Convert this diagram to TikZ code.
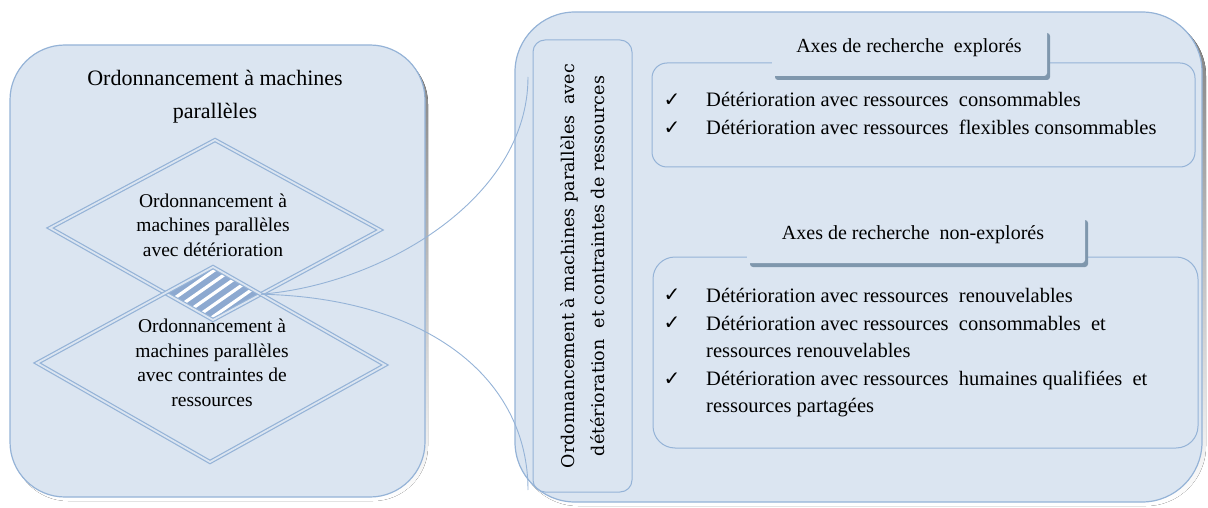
\documentclass[tikz,border=0pt]{standalone}
\usepackage{fontspec}
\setmainfont{Liberation Serif}
\newfontfamily\vertfont{DejaVu Serif}
\newfontfamily\checkfont{DejaVu Sans}
\usetikzlibrary{calc}

\definecolor{panel}{HTML}{DBE5F1}
\definecolor{edge}{HTML}{95B3D7}
\definecolor{shade}{HTML}{7F9CC2}
\definecolor{tabshade}{HTML}{7F97AD}
\definecolor{hatch}{HTML}{8DA9D0}

\tikzset{
  panelbox/.style={draw=edge, fill=panel, line width=1.2pt},
  innerbox/.style={draw=edge, line width=1pt},
  diamondline/.style={draw=edge, double=panel, double distance=1.8pt, line width=1.2pt},
  link/.style={draw=edge, line width=0.9pt},
  tabtext/.style={font=\fontsize{20}{24}\selectfont},
  itemtext/.style={font=\fontsize{20.5}{27}\selectfont, align=left, anchor=base west, inner sep=0pt},
  tick/.style={font=\checkfont\fontsize{20}{22}\selectfont, inner sep=0pt},
  difftext/.style={font=\fontsize{19.5}{24.5}\selectfont, align=center}
}

\begin{document}
\begin{tikzpicture}[x=1pt,y=-1pt]
\useasboundingbox (0,0) rectangle (1208,508);

% left panel with its shadow
\fill[shade, rounded corners=55pt] (13,49) rectangle (428,501);
\path[panelbox, rounded corners=55pt] (10,45) rectangle (425,497);
\node[font=\fontsize{22}{33}\selectfont, align=center] (title) at (215,97)
  {Ordonnancement à machines\\parallèles};

% overlap of the two diamonds, hatched
\begin{scope}
  \clip (215,140) -- (380,230) -- (213,320) -- (50,228) -- cycle;
  \clip (213,267) -- (385,365) -- (210,462) -- (37,363) -- cycle;
  \fill[hatch] (150,250) rectangle (280,330);
  \foreach \k in {-6,...,6}
    \draw[white, line width=3.2pt] ($(213,294)+\k*(5.4,7.6)$) ++(-70,49) -- ++(140,-98);
\end{scope}

% the two diamonds
\path[diamondline] (215,140) -- (380,230) -- (213,320) -- (50,228) -- cycle;
\path[diamondline] (213,267) -- (385,365) -- (210,462) -- (37,363) -- cycle;
\node[difftext] (d1) at (213,225)
  {Ordonnancement à\\machines parallèles\\avec détérioration};
\node[difftext] (d2) at (212,363)
  {Ordonnancement à\\machines parallèles\\avec contraintes de\\ressources};
\coordinate (hx) at (260.8,294.2);

% right panel with its shadow
\fill[shade, rounded corners=60pt] (518,16) rectangle (1206,506);
\path[panelbox, rounded corners=60pt] (515,12) rectangle (1202,502);

% vertical title box
\path[innerbox, rounded corners=12pt] (533,40) rectangle (632,492);
\node[rotate=90, font=\vertfont\fontsize{17.5}{30}\selectfont, align=center] (vt) at (583,266)
  {Ordonnancement à machines parallèles\ \ avec\\détérioration\ \ et contraintes de ressources};
\coordinate (cu) at (528,77);
\coordinate (cl) at (528,490);

% links from the overlap to the vertical box
\path[link] (hx) .. controls (380,285) and (528,200) .. (cu);
\path[link] (hx) .. controls (430,298) and (528,380) .. (cl);

% explored axes
\path[innerbox, rounded corners=15pt] (652,63) rectangle (1195,167);
\fill[tabshade, rounded corners=3pt] (775,33) rectangle (1050,80);
\fill[panel, rounded corners=3pt] (772,28) rectangle (1047,76);
\node[tabtext] (t1) at (909,48) {Axes de recherche\ \ explorés};
\node[tick] (c1) at (672,100) {✓};
\node[itemtext] (e1) at (706,107) {Détérioration avec ressources\ \ consommables};
\node[tick] (c2) at (672,128) {✓};
\node[itemtext] (e2) at (706,135) {Détérioration avec ressources\ \ flexibles consommables};

% unexplored axes
\path[innerbox, rounded corners=22pt] (653,257) rectangle (1198,448);
\fill[tabshade, rounded corners=3pt] (750,220) rectangle (1088,267);
\fill[panel, rounded corners=3pt] (747,215) rectangle (1085,263);
\node[tabtext] (t2) at (913,235) {Axes de recherche\ \ non-explorés};
\node[tick] (c3) at (672,295) {✓};
\node[itemtext] (n1) at (706,302) {Détérioration avec ressources\ \ renouvelables};
\node[tick] (c4) at (672,323) {✓};
\node[itemtext] (n2) at (706,357)
  {Détérioration avec ressources\ \ consommables\ \ et\\ressources renouvelables};
\node[tick] (c5) at (672,379) {✓};
\node[itemtext] (n3) at (706,412)
  {Détérioration avec ressources\ \ humaines qualifiées\ \ et\\ressources partagées};
\end{tikzpicture}
\end{document}
